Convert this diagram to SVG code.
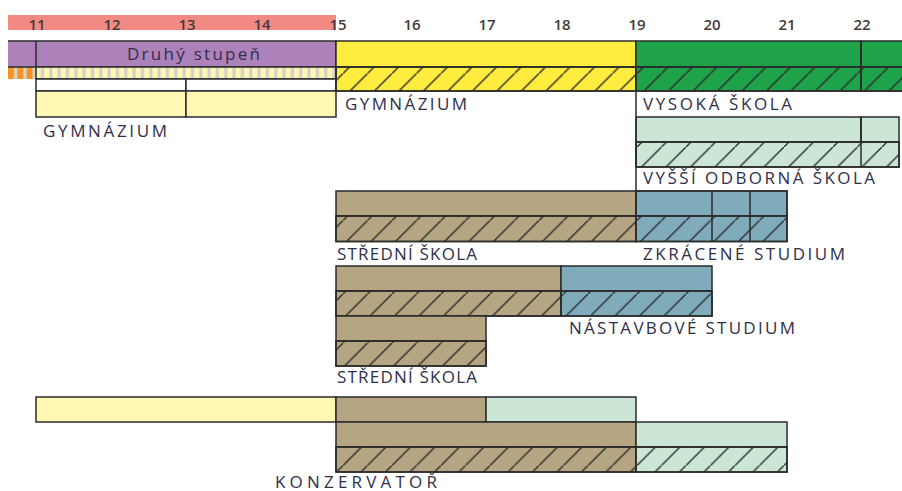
<svg xmlns="http://www.w3.org/2000/svg" width="902" height="491" viewBox="0 0 902 491">
<defs>
<pattern id="hatch" patternUnits="userSpaceOnUse" width="24.5" height="24.5">
<path d="M-3,27.5 L27.5,-3" stroke="#2b2b2b" stroke-width="1.4" fill="none"/>
</pattern>
<pattern id="stripeY" patternUnits="userSpaceOnUse" x="36" width="8.33" height="12">
<rect width="8.33" height="12" fill="#fff6b0"/>
<rect x="5" width="3" height="12" fill="#cfcfcf"/>
</pattern>
<pattern id="stripeO" patternUnits="userSpaceOnUse" x="8" width="9.33" height="12">
<rect width="9.33" height="12" fill="#f7941d"/>
<rect x="6" width="3.3" height="12" fill="#d4d4d4"/>
</pattern>
<style>
.b{stroke:#2b2b2b;stroke-width:1.5}
.h{fill:url(#hatch);stroke:none}
.n{fill:none;stroke:#2b2b2b;stroke-width:1.5}
.pu{fill:#ad82ba}.ye{fill:#feec3f}.gr{fill:#1fa34a}.ly{fill:#fff7b4}
.lg{fill:#cce6d5}.br{fill:#b6a582}.bl{fill:#80abbb}.wh{fill:#ffffff}
.lbl{font-family:"Open Sans","Noto Sans",sans-serif;font-size:17px;font-weight:400;fill:#302f4a}
.num{font-family:"Open Sans","Noto Sans",sans-serif;font-size:15px;font-weight:600;fill:#45393a;text-anchor:middle}
</style>
</defs>
<rect width="902" height="491" fill="#ffffff"/>

<g id="ruler">
<rect x="8" y="15" width="328" height="15" fill="#f28a84"/>
<text class="num" x="37" y="30">11</text>
<text class="num" x="112" y="30">12</text>
<text class="num" x="187" y="30">13</text>
<text class="num" x="262" y="30">14</text>
<text class="num" x="338" y="30">15</text>
<text class="num" x="412" y="30">16</text>
<text class="num" x="487" y="30">17</text>
<text class="num" x="562" y="30">18</text>
<text class="num" x="637" y="30">19</text>
<text class="num" x="712" y="30">20</text>
<text class="num" x="787" y="30">21</text>
<text class="num" x="862" y="30">22</text>
</g>

<g id="druhy-stupen">
<rect x="8" y="41" width="28" height="26" class="pu"/>
<rect x="8" y="67" width="28" height="12" fill="url(#stripeO)"/>
<path d="M8,41 H36 M8,67 H36" class="n"/>
<rect x="36" y="41" width="300" height="26" class="pu b"/>
<text class="lbl" x="127" y="60" font-size="18.5" textLength="133" lengthAdjust="spacing" fill="#36283f">Druhý stupeň</text>
<rect x="36" y="67" width="300" height="12" fill="url(#stripeY)" class="b"/>
</g>

<g id="gymnazium-osmilete">
<rect x="36" y="79" width="150" height="12" class="wh b"/>
<rect x="186" y="79" width="150" height="12" class="wh b"/>
<rect x="36" y="91" width="150" height="26" class="ly b"/>
<rect x="186" y="91" width="150" height="26" class="ly b"/>
<text class="lbl" x="43" y="136.5" textLength="124" lengthAdjust="spacing">GYMNÁZIUM</text>
</g>

<g id="gymnazium">
<rect x="336" y="41" width="300" height="26" class="ye b"/>
<rect x="336" y="67" width="300" height="24" class="ye b"/>
<rect x="336" y="67" width="300" height="24" class="h"/>
<rect x="336" y="67" width="300" height="24" class="n"/>
<text class="lbl" x="345" y="110" textLength="122" lengthAdjust="spacing">GYMNÁZIUM</text>
</g>

<g id="vysoka-skola">
<rect x="636" y="41" width="225" height="26" class="gr b"/>
<rect x="861" y="41" width="50" height="26" class="gr b"/>
<rect x="636" y="67" width="225" height="24" class="gr b"/>
<rect x="861" y="67" width="50" height="24" class="gr b"/>
<rect x="636" y="67" width="275" height="24" class="h"/>
<path d="M636,67 H902 M636,91 H902 M861,41 V91 M636,67 V91" class="n"/>
<text class="lbl" x="643" y="110" textLength="149" lengthAdjust="spacing">VYSOKÁ ŠKOLA</text>
</g>

<g id="vyssi-odborna-skola">
<rect x="636" y="117" width="225" height="25" class="lg b"/>
<rect x="861" y="117" width="38" height="25" class="lg b"/>
<rect x="636" y="142" width="263" height="25" class="lg b"/>
<rect x="636" y="142" width="263" height="25" class="h"/>
<rect x="636" y="142" width="263" height="25" class="n"/>
<path d="M861,117 V167" class="n"/>
<text class="lbl" x="643" y="184" textLength="232" lengthAdjust="spacing">VYŠŠÍ ODBORNÁ ŠKOLA</text>
</g>

<g id="stredni-skola-1">
<rect x="336" y="191" width="300" height="25" class="br b"/>
<rect x="336" y="216" width="300" height="25.5" class="br b"/>
<rect x="336" y="216" width="300" height="25.5" class="h"/>
<rect x="336" y="216" width="300" height="25.5" class="n"/>
<text class="lbl" x="337" y="260" textLength="140" lengthAdjust="spacing">STŘEDNÍ ŠKOLA</text>
</g>

<g id="zkracene-studium">
<rect x="636" y="191" width="151" height="25" class="bl b"/>
<rect x="636" y="216" width="151" height="25.5" class="bl b"/>
<rect x="636" y="216" width="151" height="25.5" class="h"/>
<rect x="636" y="191" width="151" height="50.5" class="n"/>
<path d="M636,216 H787 M712,191 V241.5 M750,191 V241.5" class="n"/>
<text class="lbl" x="643" y="260" textLength="202" lengthAdjust="spacing">ZKRÁCENÉ STUDIUM</text>
</g>

<g id="stredni-skola-2">
<rect x="336" y="266" width="225" height="25" class="br b"/>
<rect x="336" y="291" width="225" height="25" class="br b"/>
<rect x="336" y="291" width="225" height="25" class="h"/>
<rect x="336" y="291" width="225" height="25" class="n"/>
</g>

<g id="nastavbove-studium">
<rect x="561" y="266" width="151" height="25" class="bl b"/>
<rect x="561" y="291" width="151" height="25" class="bl b"/>
<rect x="561" y="291" width="151" height="25" class="h"/>
<rect x="561" y="291" width="151" height="25" class="n"/>
<text class="lbl" x="569" y="333.5" textLength="226" lengthAdjust="spacing">NÁSTAVBOVÉ STUDIUM</text>
</g>

<g id="stredni-skola-3">
<rect x="336" y="316" width="150" height="25" class="br b"/>
<rect x="336" y="341" width="150" height="25" class="br b"/>
<rect x="336" y="341" width="150" height="25" class="h"/>
<rect x="336" y="341" width="150" height="25" class="n"/>
<text class="lbl" x="337" y="382.5" textLength="140" lengthAdjust="spacing">STŘEDNÍ ŠKOLA</text>
</g>

<g id="konzervator">
<rect x="36" y="397" width="300" height="25" class="ly b"/>
<rect x="336" y="397" width="150" height="25" class="br b"/>
<rect x="486" y="397" width="150" height="25" class="lg b"/>
<rect x="336" y="422" width="300" height="25" class="br b"/>
<rect x="636" y="422" width="151" height="25" class="lg b"/>
<rect x="336" y="447" width="300" height="25" class="br b"/>
<rect x="636" y="447" width="151" height="25" class="lg b"/>
<rect x="336" y="447" width="451" height="25" class="h"/>
<rect x="336" y="447" width="451" height="25" class="n"/>
<path d="M636,447 V472" class="n"/>
<text class="lbl" x="275" y="487.5" font-size="17" textLength="162" lengthAdjust="spacing">KONZERVATOŘ</text>
</g>

<g id="connectors">
<path d="M636,91 V191" class="n"/>
</g>
</svg>
